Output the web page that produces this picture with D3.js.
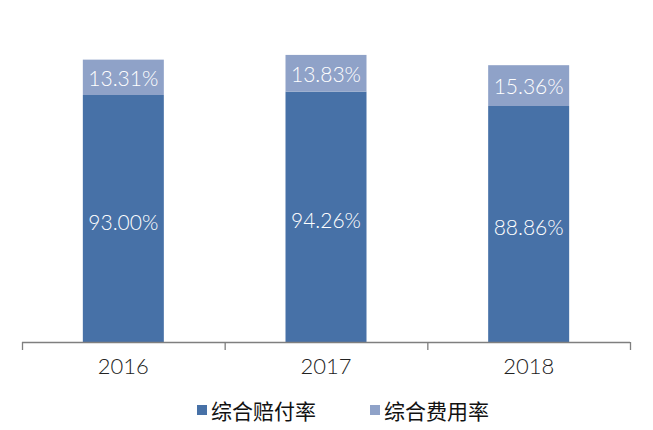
<!DOCTYPE html>
<html>
<head>
<meta charset="utf-8">
<script src="https://cdn.jsdelivr.net/npm/d3@7"></script>
<style>
  body { margin: 0; background: #fff; }
  svg text { font-family: "Lato", "Open Sans", sans-serif; }
</style>
</head>
<body>
<svg id="svg" width="653" height="430"></svg>
<script>
const years = ['2016', '2017', '2018']
const lossRatio = [93.00, 94.26, 88.86]
const expenseRatio = [13.31, 13.83, 15.36]
const seriesNames = ['综合赔付率', '综合费用率']
const colors = ['#4771a7', '#8fa2c8']

const svg = d3.select('#svg')
const left = 22, right = 630, base = 342

const x = d3.scaleBand().domain(years).range([left, right])
const y = d3.scaleLinear().domain([0, 100]).range([base, base - 265.6])

const rows = years.map((yr, i) => ({ year: yr, loss: lossRatio[i], expense: expenseRatio[i] }))
const stacked = d3.stack().keys(['loss', 'expense'])(rows)
const barW = 81

stacked.forEach((layer, k) => {
  const g = svg.append('g')
  g.selectAll('rect')
    .data(layer)
    .enter()
    .append('rect')
    .attr('x', d => x(d.data.year) + x.bandwidth() / 2 - barW / 2)
    .attr('width', barW)
    .attr('y', d => y(d[1]))
    .attr('height', d => y(d[0]) - y(d[1]))
    .attr('fill', colors[k])

  g.selectAll('text')
    .data(layer)
    .enter()
    .append('text')
    .attr('x', d => x(d.data.year) + x.bandwidth() / 2)
    .attr('y', d => (y(d[0]) + y(d[1])) / 2 + (k === 0 ? 3 : 0))
    .attr('text-anchor', 'middle')
    .attr('dominant-baseline', 'central')
    .attr('fill', '#fff')
    .attr('font-size', 21)
    .attr('font-weight', 300)
    .text(d => (d[1] - d[0]).toFixed(2) + '%')
})

// axis line with ticks at band edges
svg.append('line')
  .attr('x1', left).attr('x2', right)
  .attr('y1', base + 0.5).attr('y2', base + 0.5)
  .attr('stroke', '#7f7f7f').attr('stroke-width', 1.3)

const edges = years.map(d => x(d)).concat([right])
svg.selectAll('.tick')
  .data(edges)
  .enter()
  .append('line')
  .attr('class', 'tick')
  .attr('x1', d => d + 0.5).attr('x2', d => d + 0.5)
  .attr('y1', base).attr('y2', base + 8)
  .attr('stroke', '#7f7f7f').attr('stroke-width', 1.3)

svg.selectAll('.yr')
  .data(years)
  .enter()
  .append('text')
  .attr('class', 'yr')
  .attr('x', d => x(d) + x.bandwidth() / 2)
  .attr('y', 374)
  .attr('text-anchor', 'middle')
  .attr('fill', '#222')
  .attr('font-size', 22)
  .attr('font-weight', 300)
  .text(d => d)

// legend
const legendX = [197, 370]
const legend = svg.selectAll('.legend')
  .data(seriesNames)
  .enter()
  .append('g')
  .attr('class', 'legend')
  .attr('transform', (d, i) => `translate(${legendX[i]},410)`)

legend.append('rect')
  .attr('x', 0).attr('y', -5)
  .attr('width', 10).attr('height', 10)
  .attr('fill', (d, i) => colors[i])

legend.append('text')
  .attr('x', 14).attr('y', 0)
  .attr('dominant-baseline', 'central')
  .attr('fill', '#111')
  .attr('font-size', 21)
  .style('font-family', '"Noto Sans CJK SC", sans-serif')
  .text(d => d)
</script>
</body>
</html>
